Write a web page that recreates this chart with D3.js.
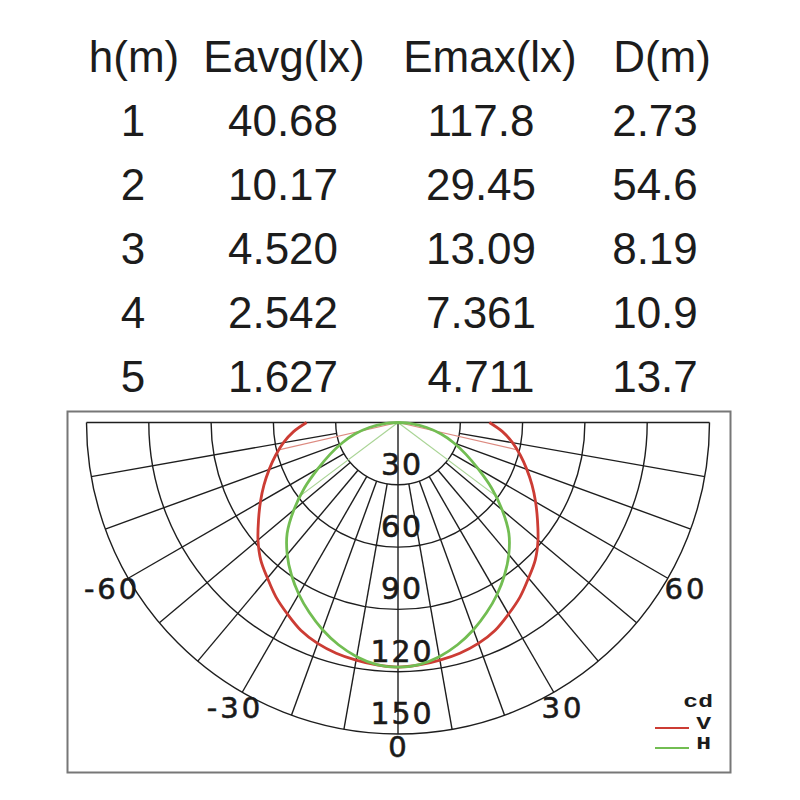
<!DOCTYPE html>
<html>
  <head>
    <style>
      body { margin: 0; background: #fff; }
      svg { display: block; }
    </style>
  </head>
  <body>
    <svg></svg>
    <script src="https://d3js.org/d3.v7.min.js"></script>
    <script>
      // table
      var headers = ["h(m)", "Eavg(lx)", "Emax(lx)", "D(m)"];
      var heights = ["1", "2", "3", "4", "5"];
      var eavg = ["40.68", "10.17", "4.520", "2.542", "1.627"];
      var emax = ["117.8", "29.45", "13.09", "7.361", "4.711"];
      var diam = ["2.73", "54.6", "8.19", "10.9", "13.7"];

      // polar curve, angle in degrees from nadir, intensity in cd (symmetric)
      var angles = [0, 5, 10, 15, 20, 25, 30, 35, 40, 45, 50, 55, 60, 65, 70, 75, 80, 85, 90];
      var vCd = [117.8, 117.2, 116.2, 115.0, 113.2, 110.5, 106.5, 102.5, 97.8, 93.5, 88.0, 82.0, 76.5, 71.2, 66.0, 61.0, 56.0, 50.5, 44.0];
      var hCd = [117.8, 117.0, 114.5, 110.8, 106.2, 101.0, 95.5, 89.5, 83.0, 75.5, 65.5, 55.0, 44.5, 36.0, 28.5, 21.5, 14.0, 7.0, 0.0];

      var rings = [30, 60, 90, 120, 150];
      var spokes = [-80, -70, -60, -50, -40, -30, -20, -10, 10, 20, 30, 40, 50, 60, 70, 80];
      var angleLabels = [-60, -30, 0, 30, 60];

      var svg = d3.select("svg")
        .attr("width", 800)
        .attr("height", 800);

      // ---- table ----
      var rowY = d3.scaleLinear().domain([0, 5]).range([72, 392]);
      var headX = [134, 284, 490, 662];
      var cellX = [133, 283, 481, 655];
      var cols = [heights, eavg, emax, diam];

      var table = svg.append("g")
        .attr("font-family", "'Liberation Sans', Arial, sans-serif")
        .attr("font-size", 44)
        .attr("fill", "#1c1c1c")
        .attr("text-anchor", "middle");

      table.selectAll("text.head")
        .data(headers)
        .join("text")
        .attr("class", "head")
        .attr("x", (d, i) => headX[i])
        .attr("y", rowY(0))
        .text(d => d);

      cols.forEach(function (col, c) {
        table.selectAll("text.c" + c)
          .data(col)
          .join("text")
          .attr("class", "c" + c)
          .attr("x", cellX[c])
          .attr("y", (d, i) => rowY(i + 1))
          .text(d => d);
      });

      // ---- polar diagram ----
      svg.append("rect")
        .attr("x", 67.5).attr("y", 411.5)
        .attr("width", 663).attr("height", 361)
        .attr("fill", "none")
        .attr("stroke", "#777")
        .attr("stroke-width", 2);

      var cx = 398, cy = 422.5;
      var r = d3.scaleLinear().domain([0, 150]).range([0, 311.5]);
      var rad = d => (180 - d) * Math.PI / 180;   // 0 deg points down, positive to the right

      var g = svg.append("g")
        .attr("transform", "translate(" + cx + "," + cy + ")");

      var grid = g.append("g")
        .attr("fill", "none")
        .attr("stroke", "#1e1e1e")
        .attr("stroke-width", 1.4);

      rings.forEach(function (v) {
        var p = d3.path();
        p.moveTo(-r(v), 0);
        p.arc(0, 0, r(v), Math.PI, 0, true);
        grid.append("path").attr("d", p.toString());
      });

      grid.selectAll("line.spoke")
        .data(spokes)
        .join("line")
        .attr("class", "spoke")
        .attr("x1", d => r(rings[0]) * Math.sin(rad(d)))
        .attr("y1", d => -r(rings[0]) * Math.cos(rad(d)))
        .attr("x2", d => r(150) * Math.sin(rad(d)))
        .attr("y2", d => -r(150) * Math.cos(rad(d)));

      grid.append("line")
        .attr("x1", 0).attr("y1", 0)
        .attr("x2", 0).attr("y2", r(150));
      grid.append("line")
        .attr("x1", -r(150)).attr("y1", 0)
        .attr("x2", r(150)).attr("y2", 0);

      // ring labels
      g.append("g")
        .attr("font-family", "'DejaVu Sans', sans-serif")
        .attr("font-size", 30)
        .attr("letter-spacing", 2)
        .attr("fill", "#1a1a1a")
        .attr("stroke", "#1a1a1a")
        .attr("stroke-width", 0.6)
        .attr("text-anchor", "middle")
        .selectAll("text")
        .data(rings)
        .join("text")
        .attr("x", 4)
        .attr("y", d => r(d) - 10)
        .text(d => d);

      // angle labels
      g.append("g")
        .attr("font-family", "'DejaVu Sans', sans-serif")
        .attr("font-size", 29)
        .attr("letter-spacing", 3)
        .attr("fill", "#1a1a1a")
        .attr("stroke", "#1a1a1a")
        .attr("stroke-width", 0.6)
        .attr("text-anchor", "middle")
        .selectAll("text")
        .data(angleLabels)
        .join("text")
        .attr("x", d => (r(150) + 12 + 9 * Math.abs(Math.sin(d * Math.PI / 180))) * Math.sin(rad(d)) + 1)
        .attr("y", d => -(r(150) + 12 + 9 * Math.abs(Math.sin(d * Math.PI / 180))) * Math.cos(rad(d)) + 11)
        .text(d => d);

      function mirror(vals) {
        var pts = [];
        for (var i = angles.length - 1; i > 0; i--) pts.push([-angles[i], vals[i]]);
        for (var j = 0; j < angles.length; j++) pts.push([angles[j], vals[j]]);
        return pts;
      }

      // angle where intensity falls to half of the peak
      function halfAngle(vals) {
        var half = vals[0] / 2;
        for (var i = 1; i < vals.length; i++) {
          if (vals[i] <= half) {
            var t = (vals[i - 1] - half) / (vals[i - 1] - vals[i]);
            return angles[i - 1] + t * (angles[i] - angles[i - 1]);
          }
        }
        return 90;
      }

      var radial = d3.lineRadial()
        .angle(d => rad(d[0]))
        .radius(d => r(d[1]))
        .curve(d3.curveCatmullRom);

      var series = [
        { name: "V", vals: vCd, color: "#cc3c34", thin: "#dd8a80" },
        { name: "H", vals: hCd, color: "#72bd52", thin: "#a9d495" }
      ];

      series.forEach(function (s) {
        var a = halfAngle(s.vals);
        [-a, a].forEach(function (ang) {
          g.append("line")
            .attr("x1", 0).attr("y1", 0)
            .attr("x2", r(s.vals[0] / 2) * Math.sin(rad(ang)))
            .attr("y2", -r(s.vals[0] / 2) * Math.cos(rad(ang)))
            .attr("stroke", s.thin)
            .attr("stroke-width", 1.2);
        });
      });

      series.forEach(function (s) {
        g.append("path")
          .attr("d", radial(mirror(s.vals)))
          .attr("fill", "none")
          .attr("stroke", s.color)
          .attr("stroke-width", 2.8);
      });

      // legend (text widened a bit, like the original's stretched lettering)
      var leg = svg.append("g")
        .attr("font-family", "'Liberation Mono', 'Courier New', monospace")
        .attr("font-weight", "bold")
        .attr("font-size", 19)
        .attr("fill", "#1c1c1c")
        .attr("text-anchor", "end");

      leg.append("text")
        .attr("transform", "translate(713,707) scale(1.3,1)")
        .text("cd");
      series.forEach(function (s, i) {
        var y = 729 + i * 20;
        leg.append("text")
          .attr("transform", "translate(711," + y + ") scale(1.3,1)")
          .text(s.name);
        leg.append("line")
          .attr("x1", 655).attr("x2", 689)
          .attr("y1", y - 1).attr("y2", y - 1)
          .attr("stroke", s.color)
          .attr("stroke-width", 2);
      });
    </script>
  </body>
</html>
